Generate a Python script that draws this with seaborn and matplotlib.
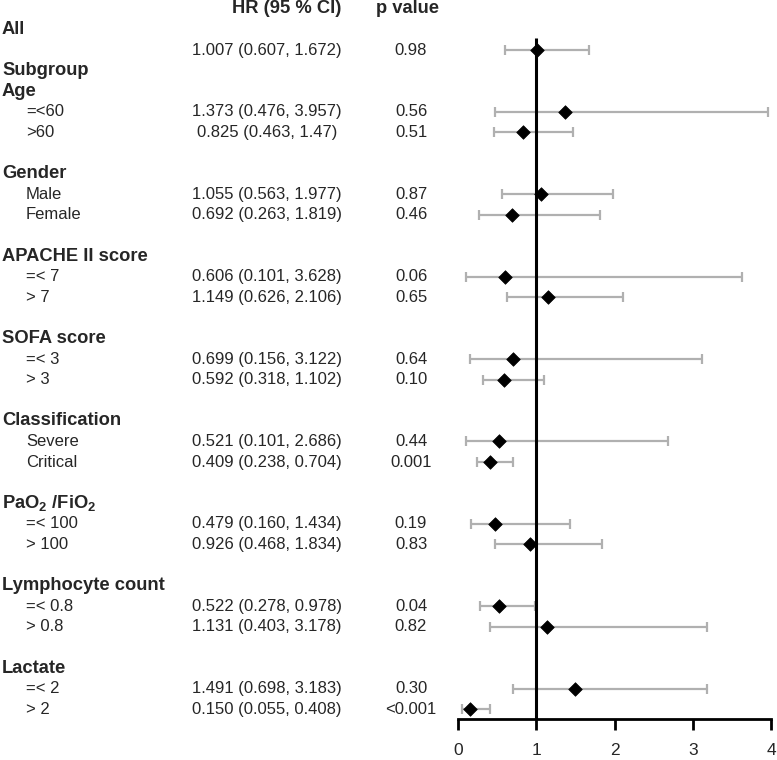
import numpy as np
import pandas as pd
import matplotlib
matplotlib.use('Agg')
import matplotlib.pyplot as plt
import matplotlib.transforms as mtransforms
import seaborn as sns

# ── data ────────────────────────────────────────────────────────────────
overall_hr, overall_lo, overall_hi = 1.007, 0.607, 1.672
overall_txt = '1.007 (0.607, 1.672)'
overall_p = '0.98'

groups = ['Age', 'Gender', 'APACHE II score', 'SOFA score', 'Classification',
          r'PaO$_\mathbf{2}$ /FiO$_\mathbf{2}$', 'Lymphocyte count', 'Lactate']
sub_labels = [['=<60', '>60'], ['Male', 'Female'], ['=< 7', '> 7'],
              ['=< 3', '> 3'], ['Severe', 'Critical'], ['=< 100', '> 100'],
              ['=< 0.8', '> 0.8'], ['=< 2', '> 2']]
hr = [1.373, 0.825, 1.055, 0.692, 0.606, 1.149, 0.699, 0.592,
      0.521, 0.409, 0.479, 0.926, 0.522, 1.131, 1.491, 0.150]
ci_lo = [0.476, 0.463, 0.563, 0.263, 0.101, 0.626, 0.156, 0.318,
         0.101, 0.238, 0.160, 0.468, 0.278, 0.403, 0.698, 0.055]
ci_hi = [3.957, 1.47, 1.977, 1.819, 3.628, 2.106, 3.122, 1.102,
         2.686, 0.704, 1.434, 1.834, 0.978, 3.178, 3.183, 0.408]
hr_txt = ['1.373 (0.476, 3.957)', '0.825 (0.463, 1.47)',
          '1.055 (0.563, 1.977)', '0.692 (0.263, 1.819)',
          '0.606 (0.101, 3.628)', '1.149 (0.626, 2.106)',
          '0.699 (0.156, 3.122)', '0.592 (0.318, 1.102)',
          '0.521 (0.101, 2.686)', '0.409 (0.238, 0.704)',
          '0.479 (0.160, 1.434)', '0.926 (0.468, 1.834)',
          '0.522 (0.278, 0.978)', '1.131 (0.403, 3.178)',
          '1.491 (0.698, 3.183)', '0.150 (0.055, 0.408)']
p_txt = ['0.56', '0.51', '0.87', '0.46', '0.06', '0.65', '0.64', '0.10',
         '0.44', '0.001', '0.19', '0.83', '0.04', '0.82', '0.30', '<0.001']
x_ticks = [0, 1, 2, 3, 4]

# ── row layout (line index, one line per text row) ──────────────────────
head_rows = {}          # bold headers -> line
rows = []               # (label, hr, lo, hi, txt, p, line)
line = 3
head_rows['All'] = 1
rows.append(('', overall_hr, overall_lo, overall_hi, overall_txt, overall_p, 2))
head_rows['Subgroup'] = 3
k = 0
for gi, g in enumerate(groups):
    line += 1 if gi == 0 else 2
    head_rows[g] = line
    for s in sub_labels[gi]:
        line += 1
        rows.append((s, hr[k], ci_lo[k], ci_hi[k], hr_txt[k], p_txt[k], line))
        k += 1

df = pd.DataFrame(rows, columns=['label', 'hr', 'lo', 'hi', 'txt', 'p', 'line'])

# ── figure ──────────────────────────────────────────────────────────────
sns.set_theme(style='white')
plt.rcParams['font.family'] = ['Liberation Sans', 'DejaVu Sans']
plt.rcParams['mathtext.fontset'] = 'custom'
plt.rcParams['mathtext.rm'] = 'Liberation Sans'
plt.rcParams['mathtext.bf'] = 'Liberation Sans:bold'

W, H = 777, 760
fig = plt.figure(figsize=(W / 100, H / 100), dpi=100)
ax = fig.add_axes([458 / W, 41 / H, (771 - 458) / W, 1 - 41 / H])

y0, dy = 50, 20.6          # pixel centre of line 2, pixel per line
ax.set_xlim(0, 4)
ax.set_ylim(2 + (H - 41 - y0) / dy, 2 - y0 / dy)

ax.errorbar(df['hr'], df['line'],
            xerr=[df['hr'] - df['lo'], df['hi'] - df['hr']],
            fmt='none', ecolor='#b0b0b0', elinewidth=1.6,
            capsize=3.6, capthick=1.6, zorder=2, clip_on=False)
ax.plot([1, 1], [1.42, ax.get_ylim()[0]], color='black', lw=2.2,
        zorder=3, clip_on=False, solid_capstyle='butt')
sns.scatterplot(data=df, x='hr', y='line', marker='D', s=48,
                color='black', edgecolor='black', linewidth=0.5,
                zorder=4, ax=ax, clip_on=False, legend=False)

for sp in ['top', 'right', 'left']:
    ax.spines[sp].set_visible(False)
ax.spines['bottom'].set_linewidth(2)
ax.spines['bottom'].set_color('black')
ax.set_yticks([])
ax.set_xticks(x_ticks)
ax.set_xticklabels([str(t) for t in x_ticks])
ax.tick_params(axis='x', direction='out', length=8, width=2,
               color='black', labelsize=12.5, pad=9, bottom=True)
ax.set_xlabel(''); ax.set_ylabel('')
ax.patch.set_alpha(0)

# ── table texts ─────────────────────────────────────────────────────────
tr = mtransforms.blended_transform_factory(fig.transFigure, ax.transData)
fs, fsb = 12, 13.2
ax.text(341 / W, 0, 'HR (95 % CI)', transform=tr, ha='right', va='center',
        fontsize=fsb, fontweight='bold', clip_on=False)
ax.text(407 / W, 0, 'p value', transform=tr, ha='center', va='center',
        fontsize=fsb, fontweight='bold', clip_on=False)
for name, ln in head_rows.items():
    ax.text(2 / W, ln, name, transform=tr, ha='left', va='center',
            fontsize=fsb, fontweight='bold', clip_on=False)
for _, r in df.iterrows():
    ax.text(26 / W, r['line'], r['label'], transform=tr, ha='left',
            va='center', fontsize=fs, clip_on=False)
    ax.text(267 / W, r['line'], r['txt'], transform=tr, ha='center',
            va='center', fontsize=fs, clip_on=False)
    ax.text(411 / W, r['line'], r['p'], transform=tr, ha='center',
            va='center', fontsize=fs, clip_on=False)

fig.savefig('out.png', dpi=100)
